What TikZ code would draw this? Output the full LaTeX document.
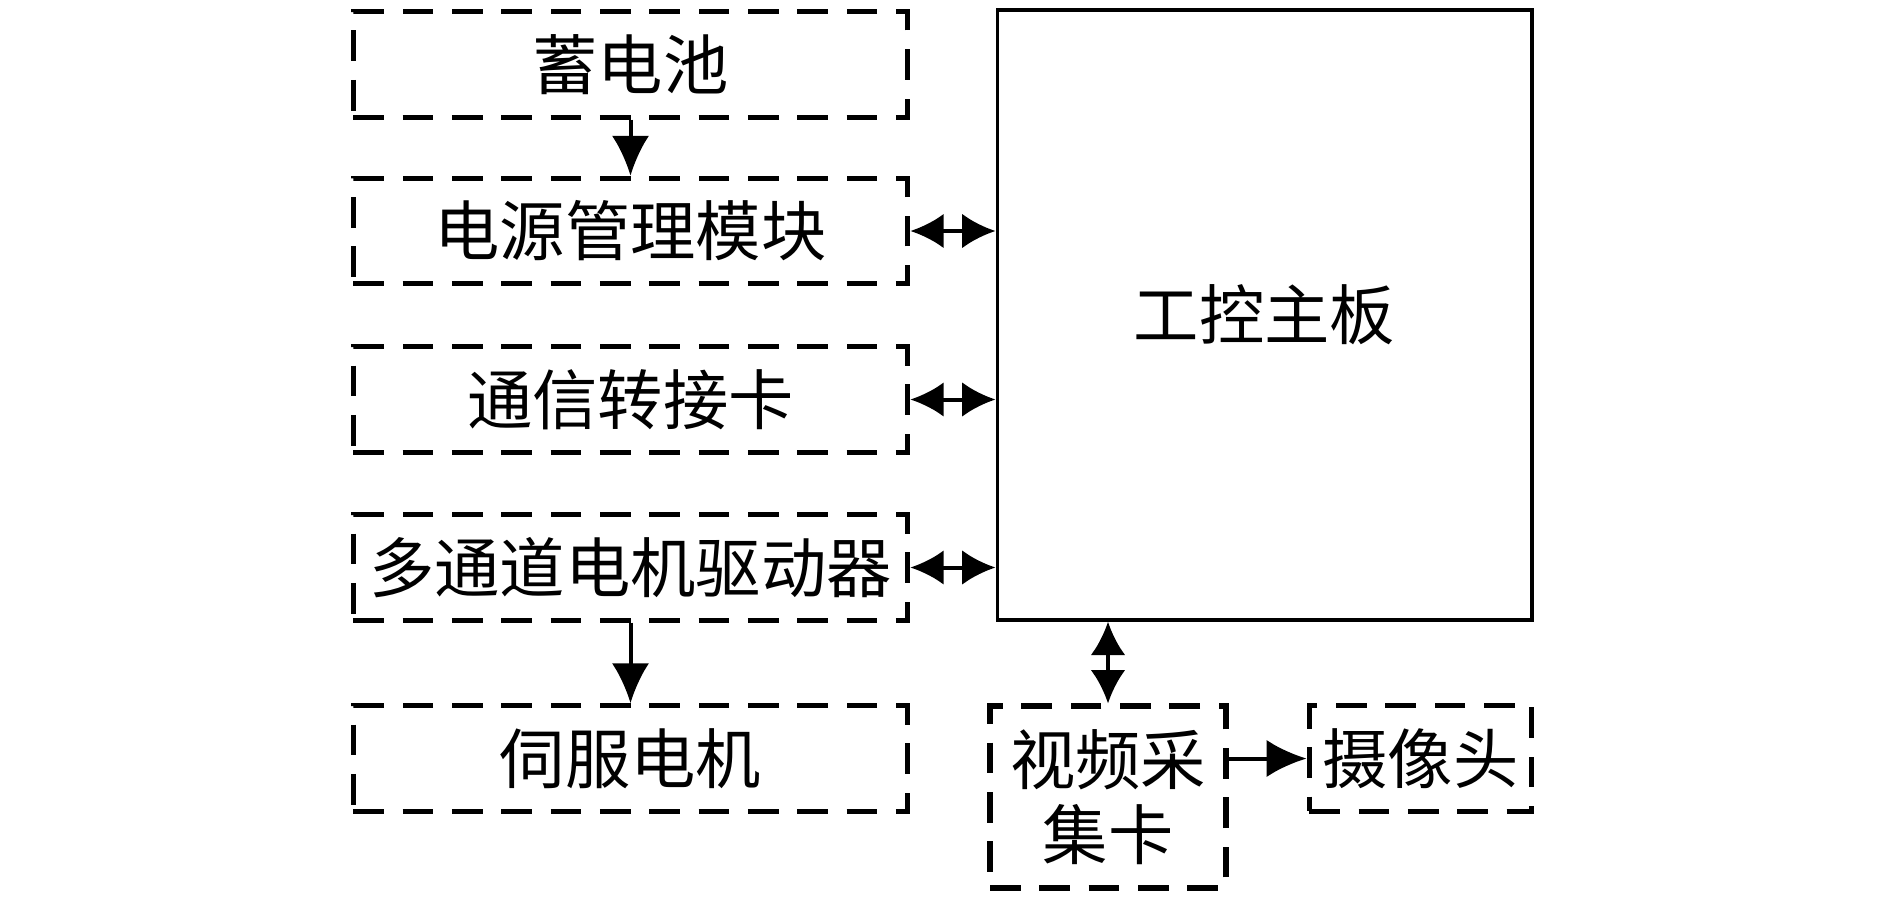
\documentclass[tikz,border=0pt]{standalone}
\usepackage{fontspec}
\newfontfamily\cjk{Noto Sans CJK SC}
\usepackage{tikz}
\usetikzlibrary{arrows.meta}

\tikzset{
  dashbox/.style={draw, line width=3.8pt, dash pattern=on 23pt off 14pt,
    minimum width=416pt, minimum height=79pt, inner sep=0pt,
    font=\cjk\fontsize{49}{56}\selectfont},
  solidbox/.style={draw, line width=2.5pt, inner sep=0pt,
    font=\cjk\fontsize{49}{56}\selectfont},
  conn/.style={line width=3pt, -{Latex[length=30pt,width=28pt]}},
  biconn/.style={line width=3pt, {Latex[length=25pt,width=26pt]}-{Latex[length=25pt,width=26pt]}}
}

\begin{document}
\begin{tikzpicture}[x=0.75pt,y=-0.75pt]
   \useasboundingbox (0,0) rectangle (1890,899);
   % left column
   \node[dashbox] (battery) at (630.5,64.5) {蓄电池};
   \node[dashbox] (power) at (630.5,231) {电源管理模块};
   \node[dashbox] (comm) at (630.5,399.5) {通信转接卡};
   \node[dashbox] (driver) at (630.5,567.5) {多通道电机驱动器};
   \node[dashbox] (servo) at (630.5,758.5) {伺服电机};
   % main board and video
   \node[solidbox, minimum width=401pt, minimum height=457.5pt] (board) at (1264.5,315) {工控主板};
   \node[dashbox, minimum width=177pt, minimum height=136.5pt, align=center] (video) at (1108,797) {视频采\\集卡};
   \node[dashbox, minimum width=167pt] (camera) at (1420.5,758.5) {摄像头};
   % connectors
   \draw[conn] (battery) -- (power);
   \draw[conn] (driver) -- (servo);
   \draw[biconn] (power.east) -- (power.east -| board.west);
   \draw[biconn] (comm.east) -- (comm.east -| board.west);
   \draw[biconn] (driver.east) -- (driver.east -| board.west);
   \draw[biconn] (video.north |- board.south) -- (video.north);
   \draw[conn] (camera.west -| video.east) -- (camera.west);
\end{tikzpicture}
\end{document}
